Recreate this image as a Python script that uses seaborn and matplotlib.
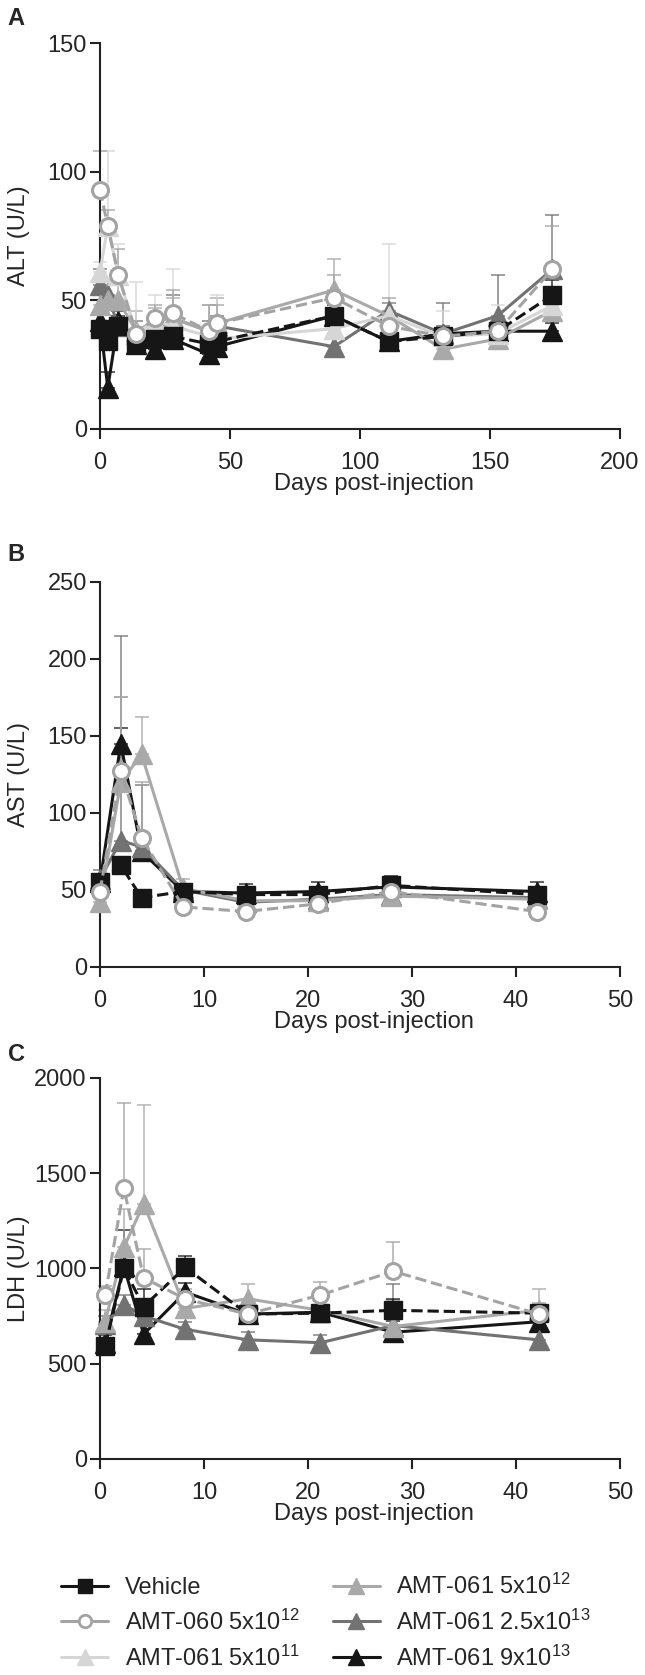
import numpy as np
import matplotlib
matplotlib.use('Agg')
import matplotlib.pyplot as plt
from matplotlib.lines import Line2D
import seaborn as sns

# group names (legend order)
groups = ['Vehicle', 'AMT-060 5x10$^{12}$', 'AMT-061 5x10$^{11}$',
          'AMT-061 5x10$^{12}$', 'AMT-061 2.5x10$^{13}$', 'AMT-061 9x10$^{13}$']

# ---- A: ALT ----
alt_days = [0, 3, 7, 14, 21, 28, 42, 45, 90, 111, 132, 153, 174]
alt_vehicle = [39, 34, 40, 33, 35, 36, 33, 34, 44, 34, 36, 38, 52]
alt_060 = [93, 79, 60, 37, 43, 45, 38, 41, 51, 40, 36, 38, 62]
alt_5e11 = [61, 79, 60, 37, 42, 40, 36, 35, 39, 44, 36, 37, 48]
alt_5e12 = [48, 50, 50, 38, 42, 43, 38, 41, 54, 44, 31, 35, 46]
alt_25e13 = [56, 52, 40, 37, 37, 43, 38, 40, 32, 46, 37, 44, 62]
alt_9e13 = [42, 16, 42, 33, 31, 35, 29, 32, 44, 34, 37, 38, 38]
alt_sd_vehicle = [3, 4, 4, 4, 3, 4, 4, 3, 4, 5, 3, 4, 6]
alt_sd_060 = [15, 6, 10, 5, 5, 9, 10, 7, 9, 11, 4, 6, 17]
alt_sd_5e11 = [4, 29, 12, 20, 10, 22, 12, 17, 4, 28, 10, 11, 6]
alt_sd_5e12 = [5, 8, 6, 8, 5, 8, 10, 10, 12, 5, 4, 5, 8]
alt_sd_25e13 = [6, 6, 8, 5, 4, 9, 4, 4, 4, 3, 12, 16, 21]
alt_sd_9e13 = [3, 6, 4, 3, 3, 3, 3, 3, 3, 3, 3, 3, 3]

# ---- B: AST ----
ast_days = [0, 2, 4, 8, 14, 21, 28, 42]
ast_vehicle = [55, 66, 45, 49, 47, 47, 53, 47]
ast_060 = [49, 127, 84, 39, 36, 41, 49, 36]
ast_5e12 = [42, 120, 138, 51, 43, 43, 46, 44]
ast_25e13 = [57, 82, 78, 50, 42, 44, 47, 45]
ast_9e13 = [55, 145, 75, 49, 48, 49, 52, 49]
ast_sd_vehicle = [5, 5, 3, 5, 5, 5, 6, 5]
ast_sd_060 = [8, 48, 36, 5, 3, 4, 6, 3]
ast_sd_5e12 = [4, 55, 24, 6, 4, 4, 5, 4]
ast_sd_25e13 = [6, 133, 40, 4, 4, 4, 5, 4]
ast_sd_9e13 = [5, 10, 5, 5, 6, 6, 6, 6]

# ---- C: LDH ----
ldh_days = [0.5, 2.3, 4.2, 8.2, 14.2, 21.2, 28.2, 42.2]
ldh_vehicle = [595, 1000, 800, 1005, 760, 765, 780, 765]
ldh_060 = [860, 1420, 950, 840, 760, 860, 985, 760]
ldh_5e12 = [720, 1110, 1340, 790, 840, 780, 695, 780]
ldh_25e13 = [710, 810, 750, 680, 625, 610, 700, 625]
ldh_9e13 = [610, 1010, 655, 875, 760, 770, 665, 720]
ldh_sd_vehicle = [30, 60, 90, 60, 40, 40, 60, 40]
ldh_sd_060 = [50, 450, 150, 50, 60, 70, 155, 60]
ldh_sd_5e12 = [60, 200, 520, 60, 80, 60, 140, 110]
ldh_sd_25e13 = [40, 50, 40, 40, 40, 40, 220, 40]
ldh_sd_9e13 = [40, 190, 100, 50, 60, 60, 60, 50]

# look of each group: color, marker, face, linestyle
look = {
    groups[0]: ('#161616', 's', '#161616', '--'),
    groups[1]: ('#a3a3a3', 'o', 'white', '--'),
    groups[2]: ('#d6d6d6', '^', '#d6d6d6', '-'),
    groups[3]: ('#a9a9a9', '^', '#a9a9a9', '-'),
    groups[4]: ('#727272', '^', '#727272', '-'),
    groups[5]: ('#161616', '^', '#161616', '-'),
}
msize = {'s': 13, 'o': 11.5, '^': 14}
draw_order = [groups[5], groups[4], groups[3], groups[2], groups[0], groups[1]]

sns.set_theme(style='ticks')
plt.rcParams['font.family'] = ['Liberation Sans', 'DejaVu Sans']
plt.rcParams['mathtext.default'] = 'regular'
FS = 17


def draw_panel(ax, days, values, sds, ymax, yticks, xmax, xticks, ylabel):
    for g in draw_order:
        if g not in values:
            continue
        col, mk, fc, ls = look[g]
        ax.errorbar(days, values[g], yerr=[np.zeros(len(sds[g])), sds[g]],
                    fmt='none', ecolor=col, elinewidth=1.2, capsize=5,
                    capthick=1.2, clip_on=False, zorder=2, alpha=0.8)
        sns.lineplot(x=days, y=values[g], ax=ax, sort=False, errorbar=None,
                     color=col, marker=mk, markersize=msize[mk], markerfacecolor=fc,
                     markeredgecolor=col, markeredgewidth=2.2 if mk == 'o' else 1,
                     linewidth=2.2, linestyle=ls, clip_on=False, zorder=3,
                     legend=False)
    ax.set_xlim(0, xmax)
    ax.set_ylim(0, ymax)
    ax.set_xticks(xticks)
    ax.set_yticks(yticks)
    ax.set_xlabel('Days post-injection', fontsize=FS)
    ax.set_ylabel(ylabel, fontsize=FS)
    ax.xaxis.set_label_coords(0.527, -0.115)
    ax.yaxis.set_label_coords(-0.135, 0.5)
    ax.tick_params(labelsize=FS, width=1.5, length=7.5, color='#222222')
    ax.tick_params(axis='x', pad=9)
    ax.tick_params(axis='y', pad=2)
    for s in ['left', 'bottom']:
        ax.spines[s].set_linewidth(1.5)
        ax.spines[s].set_color('#222222')
    sns.despine(ax=ax)


fig = plt.figure(figsize=(6.45, 16.75), dpi=100)
axA = fig.add_axes([0.155, 0.7439, 0.806, 0.2304])
axB = fig.add_axes([0.155, 0.4227, 0.806, 0.2299])
axC = fig.add_axes([0.155, 0.129, 0.806, 0.2275])

draw_panel(axA, alt_days,
           {groups[0]: alt_vehicle, groups[1]: alt_060, groups[2]: alt_5e11,
            groups[3]: alt_5e12, groups[4]: alt_25e13, groups[5]: alt_9e13},
           {groups[0]: alt_sd_vehicle, groups[1]: alt_sd_060, groups[2]: alt_sd_5e11,
            groups[3]: alt_sd_5e12, groups[4]: alt_sd_25e13, groups[5]: alt_sd_9e13},
           150, [0, 50, 100, 150], 200, [0, 50, 100, 150, 200], 'ALT (U/L)')

draw_panel(axB, ast_days,
           {groups[0]: ast_vehicle, groups[1]: ast_060,
            groups[3]: ast_5e12, groups[4]: ast_25e13, groups[5]: ast_9e13},
           {groups[0]: ast_sd_vehicle, groups[1]: ast_sd_060,
            groups[3]: ast_sd_5e12, groups[4]: ast_sd_25e13, groups[5]: ast_sd_9e13},
           250, [0, 50, 100, 150, 200, 250], 50, [0, 10, 20, 30, 40, 50], 'AST (U/L)')

draw_panel(axC, ldh_days,
           {groups[0]: ldh_vehicle, groups[1]: ldh_060,
            groups[3]: ldh_5e12, groups[4]: ldh_25e13, groups[5]: ldh_9e13},
           {groups[0]: ldh_sd_vehicle, groups[1]: ldh_sd_060,
            groups[3]: ldh_sd_5e12, groups[4]: ldh_sd_25e13, groups[5]: ldh_sd_9e13},
           2000, [0, 500, 1000, 1500, 2000], 50, [0, 10, 20, 30, 40, 50], 'LDH (U/L)')

for lab, y in [('A', 0.9887), ('B', 0.669), ('C', 0.3707)]:
    fig.text(0.012, y, lab, fontsize=FS, fontweight='bold', va='center', ha='left')

handles = []
for g in groups:
    col, mk, fc, ls = look[g]
    handles.append(Line2D([0], [0], color=col, marker=mk, lw=2.2,
                          markersize=msize[mk] * 0.78,
                          markerfacecolor=fc, markeredgecolor=col,
                          markeredgewidth=2 if mk == 'o' else 1))
fig.legend(handles, groups, loc='center left', bbox_to_anchor=(0.0946, 0.0316),
           ncol=2, frameon=False, fontsize=FS, handlelength=2.0,
           handletextpad=0.7, labelspacing=0.45, columnspacing=1.4,
           borderaxespad=0, borderpad=0)

fig.savefig('out.png', dpi=100)
